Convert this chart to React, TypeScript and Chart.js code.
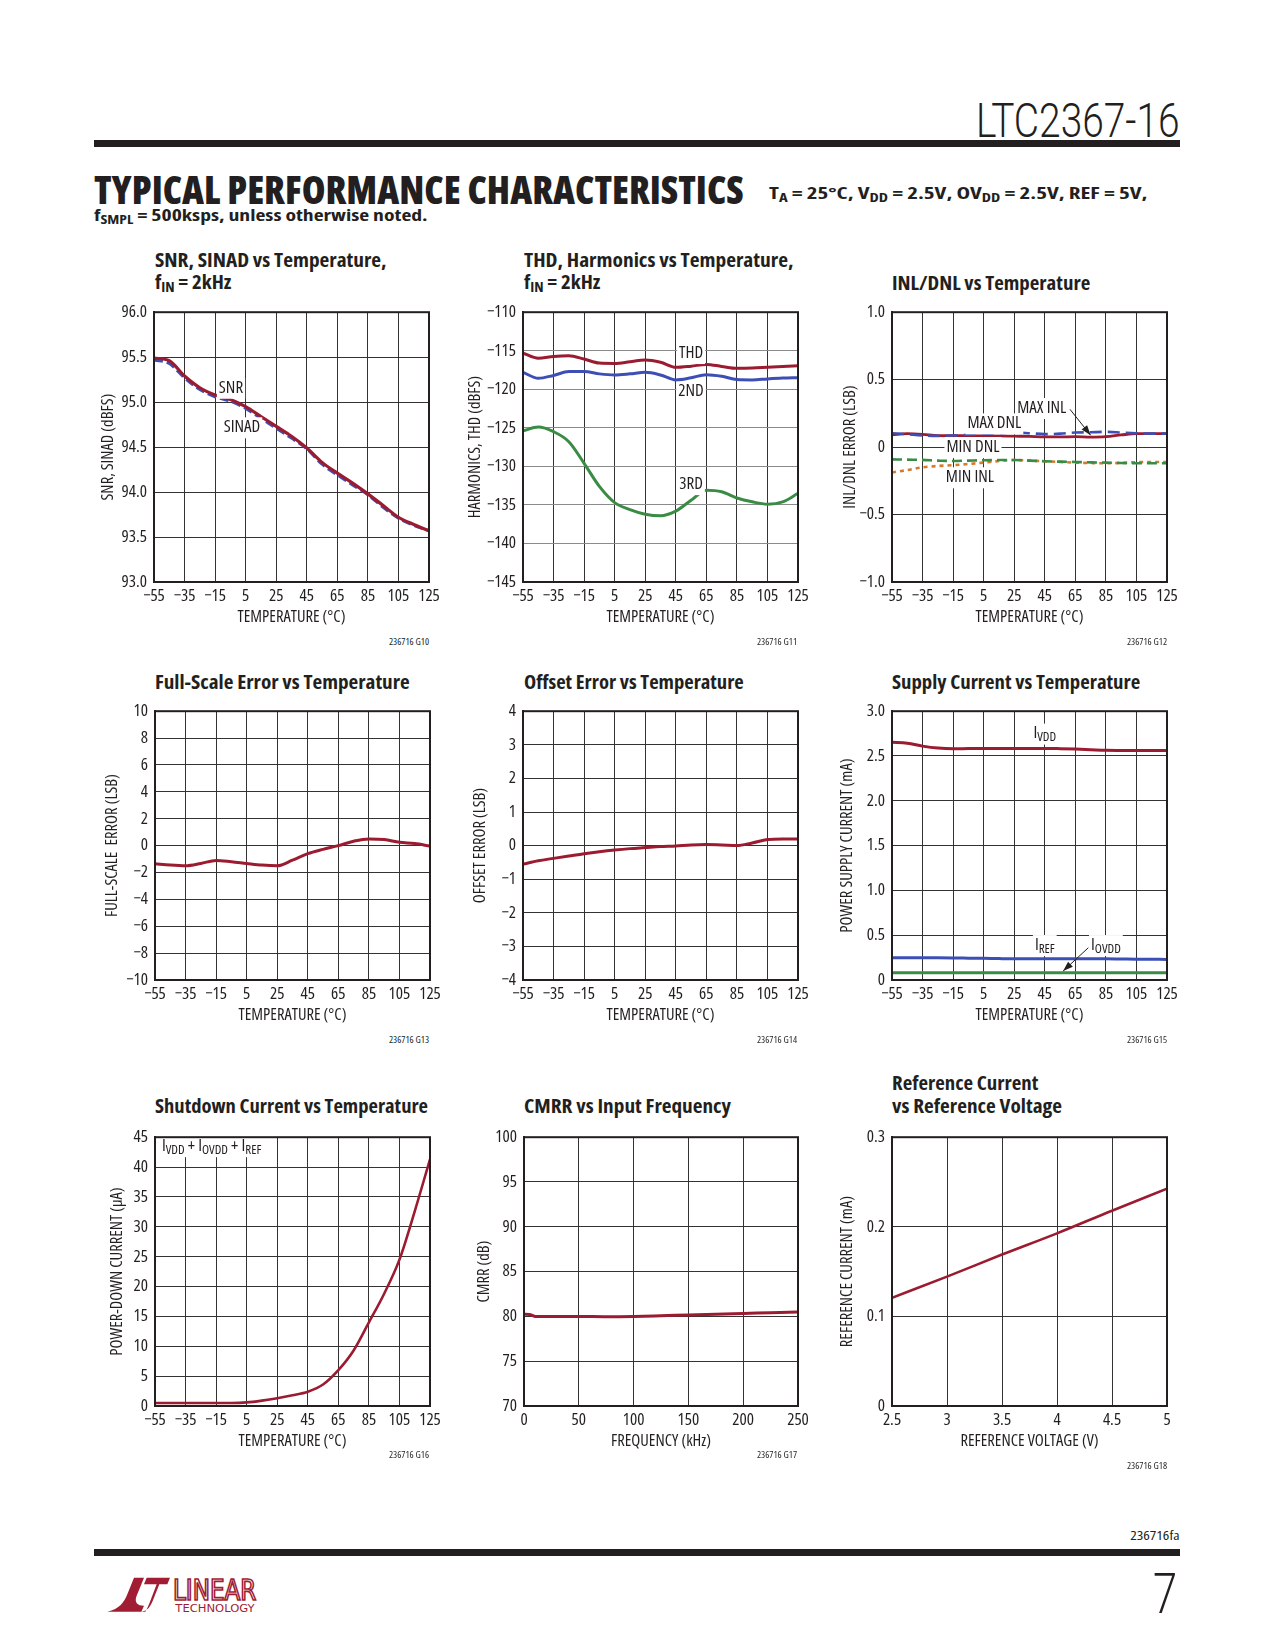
import React, { useEffect, useRef } from 'react';
import { Chart, registerables } from 'chart.js';

Chart.register(...registerables);

const PAGE_W = 1275;
const PAGE_H = 1650;
const HTML_FONT = "'Open Sans', 'DejaVu Sans Condensed', 'Liberation Sans', Arial, sans-serif";
const CAN_STRETCH = typeof CanvasRenderingContext2D !== 'undefined' && 'fontStretch' in CanvasRenderingContext2D.prototype;
const CANVAS_FONT = CAN_STRETCH ? "'Open Sans', 'DejaVu Sans Condensed', sans-serif" : "'DejaVu Sans Condensed', sans-serif";
const STRETCH = 'condensed';
const INK = '#231f20';
const GRID = '#333333';
const RED = '#9b1b30';
const BLUE = '#3d4fb5';
const GREEN = '#3a8c45';
const ORANGE = '#d47a2c';
const LOGO_RED = '#a01d33';

// ---------- shared temperature axis ----------
const tempTicks = [-55, -35, -15, 5, 25, 45, 65, 85, 105, 125];
const tempTickLabels = ['−55', '−35', '−15', '5', '25', '45', '65', '85', '105', '125'];
const tempX = [-55, -45, -35, -25, -15, -5, 5, 15, 25, 35, 45, 55, 65, 75, 85, 95, 105, 115, 125];

// ---------- SNR, SINAD ----------
const snrTicks = [93, 93.5, 94, 94.5, 95, 95.5, 96];
const snrTickLabels = ['93.0', '93.5', '94.0', '94.5', '95.0', '95.5', '96.0'];
const snrValues = [95.49, 95.46, 95.29, 95.16, 95.08, 95.03, 94.95, 94.84, 94.73, 94.62, 94.49, 94.33, 94.21, 94.1, 93.98, 93.85, 93.72, 93.64, 93.57];
const sinadValues = [95.47, 95.43, 95.27, 95.14, 95.06, 95.01, 94.93, 94.82, 94.71, 94.6, 94.48, 94.31, 94.19, 94.08, 93.97, 93.83, 93.71, 93.63, 93.57];

// ---------- THD, harmonics ----------
const thdTicks = [-145, -140, -135, -130, -125, -120, -115, -110];
const thdTickLabels = ['−145', '−140', '−135', '−130', '−125', '−120', '−115', '−110'];
const thdValues = [-115.3, -115.96, -115.74, -115.66, -116.08, -116.6, -116.64, -116.43, -116.21, -116.5, -117.15, -117.0, -116.77, -117.03, -117.28, -117.25, -117.15, -117.05, -116.95];
const secondValues = [-117.8, -118.57, -118.2, -117.7, -117.7, -118.0, -118.14, -118.0, -117.8, -118.14, -118.78, -118.5, -118.1, -118.3, -118.74, -118.78, -118.65, -118.55, -118.5];
const thirdValues = [-125.4, -124.9, -125.5, -126.8, -129.6, -132.6, -134.7, -135.6, -136.2, -136.4, -135.8, -134.4, -133.1, -133.3, -134.1, -134.6, -134.9, -134.6, -133.5];

// ---------- INL / DNL ----------
const inlTicks = [-1, -0.5, 0, 0.5, 1];
const inlTickLabels = ['−1.0', '−0.5', '0', '0.5', '1.0'];
const maxInlValues = [0.091, 0.1, 0.095, 0.085, 0.084, 0.085, 0.084, 0.083, 0.081, 0.079, 0.076, 0.076, 0.077, 0.074, 0.077, 0.09, 0.1, 0.1, 0.1];
const maxDnlValues = [0.103, 0.095, 0.086, 0.083, 0.086, 0.092, 0.098, 0.103, 0.108, 0.103, 0.096, 0.1, 0.108, 0.11, 0.113, 0.108, 0.103, 0.1, 0.1];
const minDnlValues = [-0.091, -0.093, -0.095, -0.1, -0.103, -0.1, -0.097, -0.096, -0.096, -0.1, -0.105, -0.108, -0.11, -0.113, -0.115, -0.118, -0.12, -0.12, -0.12];
const minInlValues = [-0.188, -0.17, -0.15, -0.14, -0.134, -0.125, -0.115, -0.103, -0.096, -0.1, -0.105, -0.11, -0.115, -0.118, -0.12, -0.117, -0.112, -0.11, -0.11];

// ---------- Full-scale error ----------
const fsTicks = [-10, -8, -6, -4, -2, 0, 2, 4, 6, 8, 10];
const fsTickLabels = ['−10', '−8', '−6', '−4', '−2', '0', '2', '4', '6', '8', '10'];
const fsValues = [-1.35, -1.45, -1.5, -1.33, -1.1, -1.2, -1.33, -1.45, -1.5, -1.08, -0.6, -0.28, 0.0, 0.33, 0.5, 0.45, 0.25, 0.15, -0.03];

// ---------- Offset error ----------
const offTicks = [-4, -3, -2, -1, 0, 1, 2, 3, 4];
const offTickLabels = ['−4', '−3', '−2', '−1', '0', '1', '2', '3', '4'];
const offValues = [-0.55, -0.45, -0.38, -0.31, -0.24, -0.18, -0.13, -0.09, -0.06, -0.03, -0.01, 0.02, 0.03, 0.02, 0.0, 0.08, 0.18, 0.2, 0.2];

// ---------- Supply current ----------
const supTicks = [0, 0.5, 1, 1.5, 2, 2.5, 3];
const supTickLabels = ['0', '0.5', '1.0', '1.5', '2.0', '2.5', '3.0'];
const ivddValues = [2.654, 2.643, 2.61, 2.588, 2.58, 2.583, 2.585, 2.585, 2.585, 2.585, 2.585, 2.582, 2.577, 2.57, 2.563, 2.561, 2.56, 2.56, 2.56];
const irefValues = [0.247, 0.247, 0.247, 0.247, 0.246, 0.244, 0.242, 0.239, 0.237, 0.237, 0.237, 0.237, 0.237, 0.236, 0.236, 0.234, 0.232, 0.231, 0.23];
const iovddValues = [0.08, 0.08, 0.08, 0.08, 0.08, 0.08, 0.08, 0.08, 0.08, 0.08, 0.08, 0.08, 0.08, 0.08, 0.08, 0.08, 0.08, 0.08, 0.08];

// ---------- Shutdown current ----------
const sdTicks = [0, 5, 10, 15, 20, 25, 30, 35, 40, 45];
const sdTickLabels = ['0', '5', '10', '15', '20', '25', '30', '35', '40', '45'];
const sdValues = [0.5, 0.5, 0.5, 0.5, 0.5, 0.5, 0.6, 0.9, 1.3, 1.8, 2.4, 3.6, 6.0, 9.3, 14.0, 18.8, 24.5, 32.6, 41.3];

// ---------- CMRR ----------
const cmrrX = [0, 5, 10, 25, 50, 75, 100, 125, 150, 175, 200, 225, 250];
const cmrrValues = [80.24, 80.22, 80.0, 80.0, 80.0, 79.97, 80.0, 80.08, 80.17, 80.25, 80.33, 80.42, 80.5];
const freqTicks = [0, 50, 100, 150, 200, 250];
const freqTickLabels = ['0', '50', '100', '150', '200', '250'];
const cmrrTicks = [70, 75, 80, 85, 90, 95, 100];
const cmrrTickLabels = ['70', '75', '80', '85', '90', '95', '100'];

// ---------- Reference current ----------
const refVX = [2.5, 3, 3.5, 4, 4.5, 5];
const refIValues = [0.1207, 0.1444, 0.169, 0.1927, 0.218, 0.2425];
const refVTicks = [2.5, 3, 3.5, 4, 4.5, 5];
const refVTickLabels = ['2.5', '3', '3.5', '4', '4.5', '5'];
const refITicks = [0, 0.1, 0.2, 0.3];
const refITickLabels = ['0', '0.1', '0.2', '0.3'];

// ---------- layout constants ----------
const PAD_L = 75;
const PAD_T = 12;
const PAD_R = 26;
const PAD_B = 54;
const TICK_SIZE = CAN_STRETCH ? 17 : 13;
const AXIS_TITLE_SIZE = CAN_STRETCH ? 16.5 : 14;
const ANNOT_SIZE = CAN_STRETCH ? 17 : 14;

type Part = [string, boolean];
type Label = { x: number; y: number; parts: Part[]; align?: 'left' | 'center' };
type Arrow = { x1: number; y1: number; x2: number; y2: number };
type Series = { xs: number[]; ys: number[]; color: string; dash?: number[]; width?: number };
type PanelSpec = {
  left: number; top: number; w: number; h: number;
  xMin: number; xMax: number; xTicks: number[]; xTickLabels: string[];
  yMin: number; yMax: number; yTicks: number[]; yTickLabels: string[];
  xTitle: string; yTitle: string; yGap: number;
  series: Series[]; labels?: Label[]; arrows?: Arrow[]; yGridColor?: string;
};

// make every font assignment on this context use a narrower stretch
function patchContext(ctx: any) {
  if (!CAN_STRETCH || !ctx || ctx.__stretchPatched) return;
  const desc = Object.getOwnPropertyDescriptor(CanvasRenderingContext2D.prototype, 'font');
  if (!desc || !desc.set || !desc.get) return;
  Object.defineProperty(ctx, 'font', {
    configurable: true,
    get() { return desc.get!.call(this); },
    set(v: string) { desc.set!.call(this, v); this.fontStretch = STRETCH; },
  });
  ctx.__stretchPatched = true;
}

function makeAnnot(s: PanelSpec) {
  return {
    id: 'annot',
    afterDatasetsDraw(chart: any) {
      const { ctx } = chart;
      const xs = chart.scales.x;
      const ys = chart.scales.y;
      ctx.save();
      for (const a of s.arrows || []) {
        const x1 = xs.getPixelForValue(a.x1), y1 = ys.getPixelForValue(a.y1);
        const x2 = xs.getPixelForValue(a.x2), y2 = ys.getPixelForValue(a.y2);
        ctx.strokeStyle = INK;
        ctx.fillStyle = INK;
        ctx.lineWidth = 1;
        ctx.beginPath();
        ctx.moveTo(x1, y1);
        ctx.lineTo(x2, y2);
        ctx.stroke();
        const ang = Math.atan2(y2 - y1, x2 - x1);
        const L = 10, HW = 3.5;
        ctx.beginPath();
        ctx.moveTo(x2, y2);
        ctx.lineTo(x2 - L * Math.cos(ang) + HW * Math.sin(ang), y2 - L * Math.sin(ang) - HW * Math.cos(ang));
        ctx.lineTo(x2 - L * Math.cos(ang) - HW * Math.sin(ang), y2 - L * Math.sin(ang) + HW * Math.cos(ang));
        ctx.closePath();
        ctx.fill();
      }
      const mainF = `${ANNOT_SIZE}px ${CANVAS_FONT}`;
      const subF = `${ANNOT_SIZE - 4}px ${CANVAS_FONT}`;
      for (const lb of s.labels || []) {
        const px = xs.getPixelForValue(lb.x);
        const py = ys.getPixelForValue(lb.y);
        let w = 0;
        for (const [t, sub] of lb.parts) {
          ctx.font = sub ? subF : mainF;
          w += ctx.measureText(t).width;
        }
        const x0 = lb.align === 'left' ? px : px - w / 2;
        ctx.fillStyle = '#ffffff';
        ctx.fillRect(x0 - 2, py - 10, w + 4, 21);
        ctx.fillStyle = INK;
        ctx.textBaseline = 'middle';
        ctx.textAlign = 'left';
        let cx = x0;
        for (const [t, sub] of lb.parts) {
          ctx.font = sub ? subF : mainF;
          ctx.fillText(t, cx, sub ? py + 4 : py);
          cx += ctx.measureText(t).width;
        }
      }
      ctx.restore();
    },
    afterDraw(chart: any) {
      const { ctx, chartArea: a } = chart;
      ctx.save();
      ctx.strokeStyle = INK;
      ctx.lineWidth = 2;
      ctx.strokeRect(a.left, a.top, a.right - a.left, a.bottom - a.top);
      ctx.restore();
    },
  };
}

function buildConfig(s: PanelSpec): any {
  const tickFont = { family: CANVAS_FONT, size: TICK_SIZE };
  const titleFont = { family: CANVAS_FONT, size: AXIS_TITLE_SIZE, lineHeight: 1.2 };
  const halfTitle = (AXIS_TITLE_SIZE * 1.2) / 2;
  return {
    type: 'line',
    data: {
      datasets: s.series.map((se) => ({
        data: se.xs.map((x, i) => ({ x, y: se.ys[i] })),
        borderColor: se.color,
        borderWidth: se.width ?? 3,
        borderDash: se.dash ?? [],
        borderCapStyle: se.dash ? 'butt' : 'round',
        pointRadius: 0,
        fill: false,
        cubicInterpolationMode: 'monotone',
      })),
    },
    options: {
      responsive: false,
      maintainAspectRatio: false,
      animation: false,
      events: [],
      layout: { padding: { left: 0, top: PAD_T, right: PAD_R, bottom: 0 } },
      plugins: { legend: { display: false }, tooltip: { enabled: false }, title: { display: false } },
      scales: {
        x: {
          type: 'linear',
          min: s.xMin,
          max: s.xMax,
          afterBuildTicks: (sc: any) => { sc.ticks = s.xTicks.map((v) => ({ value: v })); },
          afterFit: (sc: any) => { sc.height = PAD_B; },
          ticks: {
            callback: (_v: any, i: number) => s.xTickLabels[i],
            autoSkip: false, maxRotation: 0, minRotation: 0, padding: 4,
            color: INK, font: tickFont,
          },
          grid: { color: GRID, lineWidth: 1, drawTicks: false },
          border: { display: true, color: INK, width: 2 },
          title: { display: true, text: s.xTitle, color: INK, font: titleFont, padding: { top: 0, bottom: PAD_B - 35 - halfTitle } },
        },
        y: {
          type: 'linear',
          min: s.yMin,
          max: s.yMax,
          afterBuildTicks: (sc: any) => { sc.ticks = s.yTicks.map((v) => ({ value: v })); },
          afterFit: (sc: any) => { sc.width = PAD_L; },
          ticks: {
            callback: (_v: any, i: number) => s.yTickLabels[i],
            autoSkip: false, padding: 7, color: INK, font: tickFont,
          },
          grid: { color: s.yGridColor ?? GRID, lineWidth: 1, drawTicks: false },
          border: { display: true, color: INK, width: 2 },
          title: { display: true, text: s.yTitle, color: INK, font: titleFont, padding: { top: PAD_L - s.yGap - halfTitle, bottom: 0 } },
        },
      },
    },
    plugins: [makeAnnot(s)],
  };
}

function ChartPanel({ spec }: { spec: PanelSpec }) {
  const ref = useRef<HTMLCanvasElement>(null);
  useEffect(() => {
    const canvas = ref.current;
    if (!canvas) return;
    patchContext(canvas.getContext('2d'));
    const chart = new Chart(canvas, buildConfig(spec));
    return () => chart.destroy();
  }, []);
  const cw = PAD_L + spec.w + PAD_R;
  const ch = PAD_T + spec.h + PAD_B;
  return (
    <canvas
      ref={ref}
      width={cw}
      height={ch}
      style={{ position: 'absolute', left: spec.left - PAD_L, top: spec.top - PAD_T, width: cw, height: ch }}
    />
  );
}

function FitText({ x, y, w, size, weight = 700, family = HTML_FONT, color = INK, anchor = 'left', stretch = 'condensed', children }: any) {
  const ref = useRef<HTMLDivElement>(null);
  useEffect(() => {
    const el = ref.current;
    if (!el) return;
    const apply = () => {
      const natural = el.offsetWidth;
      if (natural > 0 && w) el.style.transform = `translateY(-50%) scaleX(${w / natural})`;
    };
    apply();
    const f: any = (document as any).fonts;
    if (f && f.ready) f.ready.then(apply);
  }, []);
  const style: any = {
    position: 'absolute', top: y, whiteSpace: 'nowrap', fontFamily: family, fontSize: size,
    fontWeight: weight, fontStretch: stretch, color, lineHeight: 1, transform: 'translateY(-50%)',
    transformOrigin: anchor === 'left' ? 'left center' : 'right center',
  };
  if (anchor === 'left') style.left = x;
  else style.right = PAGE_W - x;
  return <div ref={ref} style={style}>{children}</div>;
}

const Sub = ({ children }: any) => (
  <span style={{ fontSize: '0.72em', verticalAlign: '-0.22em' }}>{children}</span>
);

const COL = [154, 523, 892];
const ROW = [307, 706, 1132];
const PW = 275;
const PH = 274;

export default function App() {
  const T = 'TEMPERATURE (°C)';
  const tempAxis = { xMin: -55, xMax: 125, xTicks: tempTicks, xTickLabels: tempTickLabels, xTitle: T };

  const specs: PanelSpec[] = [
    {
      left: COL[0], top: ROW[0], w: PW, h: PH + 1, ...tempAxis,
      yMin: 93, yMax: 96, yTicks: snrTicks, yTickLabels: snrTickLabels,
      yTitle: 'SNR, SINAD (dBFS)', yGap: 46,
      series: [
        { xs: tempX, ys: snrValues, color: RED, width: 3.2 },
        { xs: tempX, ys: sinadValues, color: BLUE, dash: [9, 4], width: 3 },
      ],
      labels: [
        { x: -4.6, y: 95.16, parts: [['SNR', false]] },
        { x: 2.6, y: 94.72, parts: [['SINAD', false]] },
      ],
    },
    {
      left: COL[1], top: ROW[0], w: PW, h: PH + 1, ...tempAxis,
      yMin: -145, yMax: -110, yTicks: thdTicks, yTickLabels: thdTickLabels,
      yTitle: 'HARMONICS, THD (dBFS)', yGap: 48, yGridColor: '#8a8a8a',
      series: [
        { xs: tempX, ys: thdValues, color: RED },
        { xs: tempX, ys: secondValues, color: BLUE },
        { xs: tempX, ys: thirdValues, color: GREEN },
      ],
      labels: [
        { x: 55, y: -115.3, parts: [['THD', false]] },
        { x: 55, y: -120.3, parts: [['2ND', false]] },
        { x: 55, y: -132.3, parts: [['3RD', false]] },
      ],
    },
    {
      left: COL[2], top: ROW[0], w: PW, h: PH + 1, ...tempAxis,
      yMin: -1, yMax: 1, yTicks: inlTicks, yTickLabels: inlTickLabels,
      yTitle: 'INL/DNL ERROR (LSB)', yGap: 42,
      series: [
        { xs: tempX, ys: maxDnlValues, color: BLUE, dash: [12, 6], width: 2.6 },
        { xs: tempX, ys: maxInlValues, color: RED, width: 2.8 },
        { xs: tempX, ys: minDnlValues, color: GREEN, dash: [10, 5], width: 2.6 },
        { xs: tempX, ys: minInlValues, color: ORANGE, dash: [4, 4], width: 2.6 },
      ],
      labels: [
        { x: 43, y: 0.29, parts: [['MAX INL', false]] },
        { x: 12, y: 0.176, parts: [['MAX DNL', false]] },
        { x: -2, y: 0.0, parts: [['MIN DNL', false]] },
        { x: -4, y: -0.224, parts: [['MIN INL', false]] },
      ],
      arrows: [{ x1: 61.5, y1: 0.28, x2: 75, y2: 0.088 }],
    },
    {
      left: COL[0] + 1, top: ROW[1], w: PW, h: PH, ...tempAxis,
      yMin: -10, yMax: 10, yTicks: fsTicks, yTickLabels: fsTickLabels,
      yTitle: 'FULL-SCALE  ERROR (LSB)', yGap: 43,
      series: [{ xs: tempX, ys: fsValues, color: RED }],
    },
    {
      left: COL[1], top: ROW[1], w: PW, h: PH, ...tempAxis,
      yMin: -4, yMax: 4, yTicks: offTicks, yTickLabels: offTickLabels,
      yTitle: 'OFFSET ERROR (LSB)', yGap: 43,
      series: [{ xs: tempX, ys: offValues, color: RED }],
    },
    {
      left: COL[2], top: ROW[1], w: PW, h: PH, ...tempAxis,
      yMin: 0, yMax: 3, yTicks: supTicks, yTickLabels: supTickLabels,
      yTitle: 'POWER SUPPLY CURRENT (mA)', yGap: 45,
      series: [
        { xs: tempX, ys: ivddValues, color: RED },
        { xs: tempX, ys: irefValues, color: BLUE },
        { xs: tempX, ys: iovddValues, color: GREEN },
      ],
      labels: [
        { x: 45, y: 2.75, parts: [['I', false], ['VDD', true]] },
        { x: 45, y: 0.39, parts: [['I', false], ['REF', true]] },
        { x: 85, y: 0.39, parts: [['I', false], ['OVDD', true]] },
      ],
      arrows: [{ x1: 73.5, y1: 0.36, x2: 57, y2: 0.1 }],
    },
    {
      left: COL[0] + 1, top: ROW[2], w: PW, h: PH, ...tempAxis,
      yMin: 0, yMax: 45, yTicks: sdTicks, yTickLabels: sdTickLabels,
      yTitle: 'POWER-DOWN CURRENT (µA)', yGap: 38,
      series: [{ xs: tempX, ys: sdValues, color: RED, width: 2.6 }],
      labels: [
        { x: -50.5, y: 43.5, align: 'left', parts: [['I', false], ['VDD', true], [' + I', false], ['OVDD', true], [' + I', false], ['REF', true]] },
      ],
    },
    {
      left: COL[1] + 1, top: ROW[2], w: PW - 1, h: PH,
      xMin: 0, xMax: 250, xTicks: freqTicks, xTickLabels: freqTickLabels, xTitle: 'FREQUENCY (kHz)',
      yMin: 70, yMax: 100, yTicks: cmrrTicks, yTickLabels: cmrrTickLabels,
      yTitle: 'CMRR (dB)', yGap: 40,
      series: [{ xs: cmrrX, ys: cmrrValues, color: RED }],
    },
    {
      left: COL[2], top: ROW[2], w: PW, h: PH,
      xMin: 2.5, xMax: 5, xTicks: refVTicks, xTickLabels: refVTickLabels, xTitle: 'REFERENCE VOLTAGE (V)',
      yMin: 0, yMax: 0.3, yTicks: refITicks, yTickLabels: refITickLabels,
      yTitle: 'REFERENCE CURRENT (mA)', yGap: 45,
      series: [{ xs: refVX, ys: refIValues, color: RED, width: 2.6 }],
    },
  ];

  const ids = [
    { t: '236716 G10', x: 429, y: 642 },
    { t: '236716 G11', x: 797, y: 642 },
    { t: '236716 G12', x: 1167, y: 642 },
    { t: '236716 G13', x: 429, y: 1040 },
    { t: '236716 G14', x: 797, y: 1040 },
    { t: '236716 G15', x: 1167, y: 1040 },
    { t: '236716 G16', x: 429, y: 1455 },
    { t: '236716 G17', x: 797, y: 1455 },
    { t: '236716 G18', x: 1167, y: 1466 },
  ];

  return (
    <div style={{ position: 'absolute', left: 0, top: 0, width: PAGE_W, height: PAGE_H, background: '#ffffff', overflow: 'hidden' }}>
      {/* page header */}
      <FitText x={1180} y={121} w={204} size={48} weight={300} stretch="normal" family="Roboto, 'Liberation Sans', sans-serif" anchor="right">LTC2367-16</FitText>
      <div style={{ position: 'absolute', left: 94, top: 140, width: 1086, height: 7, background: INK }} />
      <FitText x={94} y={188} w={650} size={39} weight={800}>TYPICAL PERFORMANCE CHARACTERISTICS</FitText>
      <FitText x={769} y={194} w={378} size={16} weight={700}>
        T<Sub>A</Sub> = 25°C, V<Sub>DD</Sub> = 2.5V, OV<Sub>DD</Sub> = 2.5V, REF = 5V,
      </FitText>
      <FitText x={94} y={216} w={333} size={16} weight={700}>
        f<Sub>SMPL</Sub> = 500ksps, unless otherwise noted.
      </FitText>

      {/* chart titles */}
      <FitText x={155} y={260} w={232} size={19}>SNR, SINAD vs Temperature,</FitText>
      <FitText x={155} y={283} w={76} size={19}>f<Sub>IN</Sub> = 2kHz</FitText>
      <FitText x={524} y={260} w={269} size={19}>THD, Harmonics vs Temperature,</FitText>
      <FitText x={524} y={283} w={76} size={19}>f<Sub>IN</Sub> = 2kHz</FitText>
      <FitText x={892} y={283} w={198} size={19}>INL/DNL vs Temperature</FitText>

      <FitText x={155} y={682} w={255} size={19}>Full-Scale Error vs Temperature</FitText>
      <FitText x={524} y={682} w={220} size={19}>Offset Error vs Temperature</FitText>
      <FitText x={892} y={682} w={248} size={19}>Supply Current vs Temperature</FitText>

      <FitText x={155} y={1106} w={273} size={19}>Shutdown Current vs Temperature</FitText>
      <FitText x={524} y={1106} w={207} size={19}>CMRR vs Input Frequency</FitText>
      <FitText x={892} y={1083} w={146} size={19}>Reference Current</FitText>
      <FitText x={892} y={1106} w={170} size={19}>vs Reference Voltage</FitText>

      {specs.map((s, i) => <ChartPanel key={i} spec={s} />)}

      {ids.map((d) => (
        <FitText key={d.t} x={d.x} y={d.y} w={40} size={8} weight={400} anchor="right">{d.t}</FitText>
      ))}

      {/* footer */}
      <FitText x={1180} y={1536} w={50} size={12} weight={400} anchor="right">236716fa</FitText>
      <div style={{ position: 'absolute', left: 94, top: 1549, width: 1086, height: 7, background: INK }} />
      <FitText x={1177} y={1594} w={24} size={56} weight={300} stretch="normal" family="Roboto, 'Liberation Sans', sans-serif" anchor="right">7</FitText>
      <svg style={{ position: 'absolute', left: 88, top: 1565 }} width={180} height={55} viewBox="0 0 540 165">
        <path d="M58 140 C 95 132, 108 112, 118 88 L 138 38 L 168 38 L 146 92 C 138 112, 148 122, 168 122 L 160 140 Z" fill={LOGO_RED} />
        <path d="M176 38 L 246 38 L 238 58 L 214 58 L 194 108 C 184 132, 172 140, 158 140 L 168 140 L 172 140 C 178 130, 182 120, 186 110 L 206 58 L 168 58 Z" fill={LOGO_RED} />
        <text x="255" y="105" fontFamily="'DejaVu Sans Condensed', sans-serif" fontWeight={400} fontSize="84" fill="none" stroke={LOGO_RED} strokeWidth="5" textLength="250" lengthAdjust="spacingAndGlyphs">LINEAR</text>
        <text x="262" y="140" fontFamily="'DejaVu Sans Condensed', sans-serif" fontSize="30" fill={LOGO_RED} textLength="238" lengthAdjust="spacingAndGlyphs">TECHNOLOGY</text>
      </svg>
    </div>
  );
}
